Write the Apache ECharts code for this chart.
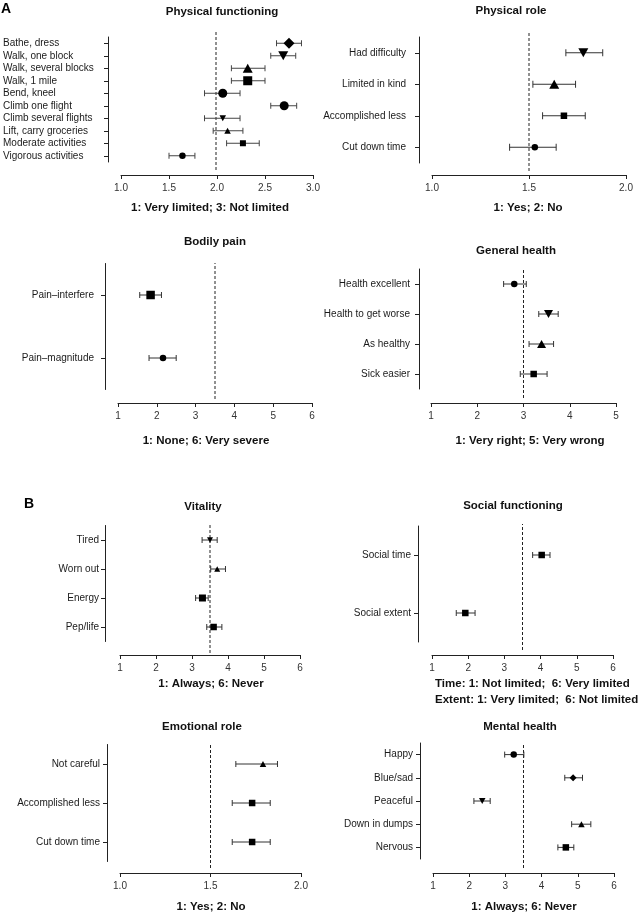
<!DOCTYPE html>
<html><head><meta charset="utf-8">
<script src="https://cdn.jsdelivr.net/npm/echarts/dist/echarts.min.js"></script>
<style>html,body{margin:0;padding:0;background:#fff}#c{width:641px;height:914px}</style>
</head><body><div id="c"></div>
<script>
// ---------- DATA ----------
const pfCategories = ['Bathe, dress','Walk, one block','Walk, several blocks','Walk, 1 mile','Bend, kneel','Climb one flight','Climb several flights','Lift, carry groceries','Moderate activities','Vigorous activities'];
const pfMeans = [2.75,2.69,2.32,2.32,2.06,2.70,2.06,2.11,2.27,1.64];
const pfLower = [2.62,2.56,2.15,2.15,1.87,2.56,1.87,1.96,2.10,1.50];
const pfUpper = [2.88,2.82,2.50,2.50,2.24,2.83,2.24,2.27,2.44,1.77];

const prCategories = ['Had difficulty','Limited in kind','Accomplished less','Cut down time'];
const prMeans = [1.78,1.63,1.68,1.53];
const prLower = [1.69,1.52,1.57,1.40];
const prUpper = [1.88,1.74,1.79,1.64];

const bpCategories = ['Pain\u2013interfere','Pain\u2013magnitude'];
const bpMeans = [1.84,2.16];
const bpLower = [1.56,1.80];
const bpUpper = [2.12,2.50];

const ghCategories = ['Health excellent','Health to get worse','As healthy','Sick easier'];
const ghMeans = [2.80,3.54,3.39,3.22];
const ghLower = [2.57,3.33,3.12,2.93];
const ghUpper = [3.06,3.75,3.65,3.51];

const vtCategories = ['Tired','Worn out','Energy','Pep/life'];
const vtMeans = [3.50,3.70,3.29,3.60];
const vtLower = [3.28,3.52,3.10,3.41];
const vtUpper = [3.70,3.93,3.45,3.83];

const sfCategories = ['Social time','Social extent'];
const sfMeans = [4.03,1.92];
const sfLower = [3.78,1.67];
const sfUpper = [4.26,2.19];

const erCategories = ['Not careful','Accomplished less','Cut down time'];
const erMeans = [1.79,1.73,1.73];
const erLower = [1.64,1.62,1.62];
const erUpper = [1.87,1.83,1.83];

const mhCategories = ['Happy','Blue/sad','Peaceful','Down in dumps','Nervous'];
const mhMeans = [3.23,4.87,2.36,5.10,4.67];
const mhLower = [2.98,4.64,2.13,4.83,4.45];
const mhUpper = [3.51,5.13,2.58,5.36,4.89];

// scales, reference values and texts
const panels = [
  {key:'pf', title:'Physical functioning', sub:['1: Very limited; 3: Not limited'], cats:pfCategories, means:pfMeans, lo:pfLower, hi:pfUpper, min:1, max:3, interval:0.5, ref:2.0, dec:1},
  {key:'pr', title:'Physical role', sub:['1: Yes; 2: No'], cats:prCategories, means:prMeans, lo:prLower, hi:prUpper, min:1, max:2, interval:0.5, ref:1.5, dec:1},
  {key:'bp', title:'Bodily pain', sub:['1: None; 6: Very severe'], cats:bpCategories, means:bpMeans, lo:bpLower, hi:bpUpper, min:1, max:6, interval:1, ref:3.5, dec:0},
  {key:'gh', title:'General health', sub:['1: Very right; 5: Very wrong'], cats:ghCategories, means:ghMeans, lo:ghLower, hi:ghUpper, min:1, max:5, interval:1, ref:3.0, dec:0},
  {key:'vt', title:'Vitality', sub:['1: Always; 6: Never'], cats:vtCategories, means:vtMeans, lo:vtLower, hi:vtUpper, min:1, max:6, interval:1, ref:3.5, dec:0},
  {key:'sf', title:'Social functioning', sub:['Time: 1: Not limited;  6: Very limited','Extent: 1: Very limited;  6: Not limited'], cats:sfCategories, means:sfMeans, lo:sfLower, hi:sfUpper, min:1, max:6, interval:1, ref:3.5, dec:0},
  {key:'er', title:'Emotional role', sub:['1: Yes; 2: No'], cats:erCategories, means:erMeans, lo:erLower, hi:erUpper, min:1, max:2, interval:0.5, ref:1.5, dec:1},
  {key:'mh', title:'Mental health', sub:['1: Always; 6: Never'], cats:mhCategories, means:mhMeans, lo:mhLower, hi:mhUpper, min:1, max:6, interval:1, ref:3.5, dec:0}
];

// ---------- LAYOUT & STYLE ----------
const layout = {
  pf:{x0:119,x1:313,top:37,bottom:162,yAxisX:106,xAxisY:175,dash:[32,170],title:[222,12],sub:[210,208],align:'left',margin:105,fs:10,cap:3,barColor:'#444'},
  pr:{x0:432,x1:626,top:37,bottom:163,yAxisX:419,xAxisY:175,dash:[32,171],title:[511,11],sub:[528,208],margin:13,fs:10,cap:3.5,barColor:'#333'},
  bp:{x0:118,x1:312,top:263.5,bottom:389.5,yAxisX:105,xAxisY:403,dash:[263,399],title:[215,242],sub:[206,441],margin:11,fs:10,cap:3,barColor:'#333'},
  gh:{x0:431,x1:616,top:269,bottom:389,yAxisX:419,xAxisY:403,dash:[270,398],title:[516,251],sub:[530,441],margin:9,fs:10,cap:3,barColor:'#333'},
  vt:{x0:120,x1:300,top:525.5,bottom:641.5,yAxisX:105,xAxisY:655,dash:[524,653],title:[203,507],sub:[211,684],margin:6,fs:10,cap:3,barColor:'#333'},
  sf:{x0:432,x1:613,top:526,bottom:642,yAxisX:418,xAxisY:655,dash:[524,650],title:[513,506],subLeft:435,subY:[684,700],margin:7,fs:10,cap:3,barColor:'#333'},
  er:{x0:120,x1:301,top:744.5,bottom:861.5,yAxisX:107,xAxisY:873,dash:[744,868],title:[202,727],sub:[211,907],margin:7,fs:10,cap:3,barColor:'#333'},
  mh:{x0:433,x1:614,top:743,bottom:859,yAxisX:420,xAxisY:873,dash:[743,868],title:[520,727],sub:[524,907],margin:7,fs:10,cap:3,barColor:'#333'}
};
const markers = {
  pf:{shape:['diamond','down','up','square','circle','circle','down','up','square','circle'], size:[11,10,10,9,9,9,6.5,6.5,6,6.5]},
  pr:{shape:['down','up','square','circle'], size:[10,10,6.5,6.5]},
  bp:{shape:['square','circle'], size:[8.5,6.5]},
  gh:{shape:['circle','down','up','square'], size:[6.5,9,9,6.5]},
  vt:{shape:['down','up','square','square'], size:[6,6,7,6.5]},
  sf:{shape:['square','square'], size:[6.5,6.5]},
  er:{shape:['up','square','square'], size:[6.5,6.5,6.5]},
  mh:{shape:['circle','diamond','down','up','square'], size:[6.5,7,6.5,6.5,6.5]}
};
const FONT = '"Liberation Sans", Arial, Helvetica, sans-serif';

const grids=[], xAxes=[], yAxes=[], series=[], graphics=[];

function symbolFor(s){ return s==='square'?'rect':(s==='up'||s==='down')?'triangle':s; }
function sizeFor(s,n){ return (s==='up'||s==='down')?[n,n*0.9]:[n,n]; }

panels.forEach(p=>{
  const L = layout[p.key], M = markers[p.key];
  const g = grids.length;
  grids.push({left:L.x0, width:L.x1-L.x0, top:L.top, height:L.bottom-L.top});
  grids.push({left:L.x0, width:L.x1-L.x0, top:L.dash[0], height:L.dash[1]-L.dash[0]});
  const xi = xAxes.length, yi = yAxes.length;
  xAxes.push({gridIndex:g, type:'value', min:p.min, max:p.max, interval:p.interval,
    offset:L.xAxisY-L.bottom,
    axisLine:{show:true, lineStyle:{color:'#222', width:1}},
    axisTick:{show:true, length:4, lineStyle:{color:'#222', width:1}},
    axisLabel:{color:'#333', fontSize:10, fontFamily:FONT, margin:8, showMinLabel:true, showMaxLabel:true,
      formatter:v=>Number(v).toFixed(p.dec)},
    splitLine:{show:false}});
  yAxes.push({gridIndex:g, type:'category', data:p.cats, inverse:true, boundaryGap:true,
    offset:L.x0-L.yAxisX,
    axisLine:{show:true, lineStyle:{color:'#222', width:1}},
    axisTick:{show:true, alignWithLabel:true, length:4, lineStyle:{color:'#222', width:1}},
    axisLabel:{align:L.align||'right', margin:L.margin, fontSize:L.fs, fontFamily:FONT, color:'#1a1a1a', interval:0},
    splitLine:{show:false}});
  xAxes.push({gridIndex:g+1, type:'value', min:p.min, max:p.max, show:false});
  yAxes.push({gridIndex:g+1, type:'value', min:0, max:1, show:false});

  // dashed reference line
  series.push({type:'line', xAxisIndex:xi+1, yAxisIndex:yi+1, data:[[p.ref,0],[p.ref,1]],
    symbol:'none', silent:true, lineStyle:{color:'#222', width:1, type:[3,2]}, z:1});
  // error bars
  series.push({type:'custom', xAxisIndex:xi, yAxisIndex:yi, silent:true, z:2,
    data:p.lo.map((lo,i)=>[lo, p.hi[i], i]),
    encode:{x:[0,1], y:2},
    renderItem:(params, api)=>{
      const a = api.coord([api.value(0), api.value(2)]);
      const b = api.coord([api.value(1), api.value(2)]);
      const h = L.cap, st = {stroke:L.barColor, lineWidth:1};
      return {type:'group', children:[
        {type:'line', shape:{x1:a[0],y1:a[1],x2:b[0],y2:b[1]}, style:st},
        {type:'line', shape:{x1:a[0],y1:a[1]-h,x2:a[0],y2:a[1]+h}, style:st},
        {type:'line', shape:{x1:b[0],y1:b[1]-h,x2:b[0],y2:b[1]+h}, style:st}
      ]};
    }});
  // markers
  series.push({type:'scatter', xAxisIndex:xi, yAxisIndex:yi, silent:true, z:3,
    itemStyle:{color:'#000', opacity:1},
    data:p.means.map((m,i)=>({value:[m,i], symbol:symbolFor(M.shape[i]), symbolSize:sizeFor(M.shape[i],M.size[i]), symbolRotate:M.shape[i]==='down'?180:0}))});

  // titles / subtitles
  graphics.push({type:'text', x:L.title[0], y:L.title[1], style:{text:p.title, font:'bold 11.5px '+FONT, fill:'#111', align:'center', verticalAlign:'middle'}});
  if (L.subY){
    p.sub.forEach((t,k)=>graphics.push({type:'text', x:L.subLeft, y:L.subY[k], style:{text:t, font:'bold 11.5px '+FONT, fill:'#111', align:'left', verticalAlign:'middle'}}));
  } else {
    graphics.push({type:'text', x:L.sub[0], y:L.sub[1], style:{text:p.sub[0], font:'bold 11.5px '+FONT, fill:'#111', align:'center', verticalAlign:'middle'}});
  }
});
graphics.push({type:'text', x:1, y:9, style:{text:'A', font:'bold 14px '+FONT, fill:'#000', align:'left', verticalAlign:'middle'}});
graphics.push({type:'text', x:24, y:504, style:{text:'B', font:'bold 14px '+FONT, fill:'#000', align:'left', verticalAlign:'middle'}});

const chart = echarts.init(document.getElementById('c'), null, {renderer:'canvas'});
chart.setOption({animation:false, backgroundColor:'#fff', grid:grids, xAxis:xAxes, yAxis:yAxes, series:series, graphic:graphics});
</script></body></html>
